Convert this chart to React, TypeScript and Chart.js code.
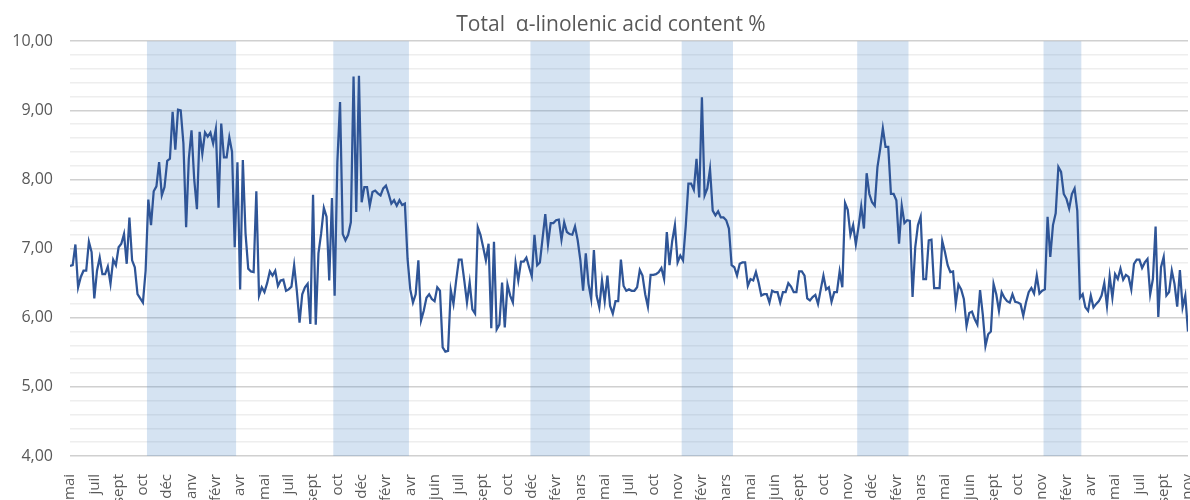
import React, { useEffect, useRef } from "react";
import { Chart, registerables } from "chart.js";

Chart.register(...registerables);

const chartTitle = "Total  α-linolenic acid content %";

// x-axis tick labels, one every 9 points
const tickLabels = [
  "mai", "juil", "sept", "oct", "déc", "janv", "févr", "avr", "mai", "juil",
  "sept", "oct", "déc", "févr", "avr", "juin", "juil", "sept", "oct", "déc",
  "févr", "mars", "mai", "juil", "oct", "nov", "févr", "mars", "mai", "juin",
  "sept", "oct", "nov", "déc", "févr", "mars", "mai", "juin", "sept", "oct",
  "nov", "févr", "avr", "mai", "juil", "sept", "nov",
];
const pointsPerTick = 9;

// Total α-linolenic acid content %, one value per sample
const alaValues = [
  6.75, 6.76, 7.06, 6.44, 6.59, 6.68, 6.68, 7.10, 6.95, 6.28,
  6.68, 6.87, 6.63, 6.63, 6.74, 6.49, 6.84, 6.76, 7.02, 7.07,
  7.21, 6.78, 7.45, 6.83, 6.73, 6.34, 6.28, 6.22, 6.68, 7.71,
  7.34, 7.83, 7.90, 8.25, 7.77, 7.89, 8.27, 8.30, 8.98, 8.43,
  9.01, 9.00, 8.52, 7.31, 8.30, 8.71, 8.00, 7.57, 8.69, 8.37,
  8.68, 8.62, 8.68, 8.52, 8.73, 7.59, 8.81, 8.32, 8.32, 8.61,
  8.40, 7.02, 8.25, 6.41, 8.28, 7.22, 6.71, 6.67, 6.66, 7.83,
  6.32, 6.44, 6.37, 6.50, 6.67, 6.61, 6.68, 6.46, 6.54, 6.55,
  6.39, 6.41, 6.45, 6.76, 6.39, 5.93, 6.34, 6.44, 6.49, 5.91,
  7.78, 5.90, 6.93, 7.22, 7.59, 7.46, 6.54, 7.73, 6.32, 8.25,
  9.12, 7.21, 7.12, 7.20, 7.38, 9.49, 7.53, 9.50, 7.67, 7.89,
  7.89, 7.62, 7.82, 7.84, 7.80, 7.77, 7.87, 7.91, 7.79, 7.65,
  7.70, 7.62, 7.70, 7.63, 7.65, 6.85, 6.41, 6.22, 6.34, 6.83,
  5.96, 6.10, 6.29, 6.34, 6.27, 6.24, 6.44, 6.39, 5.57, 5.51,
  5.52, 6.40, 6.20, 6.54, 6.84, 6.84, 6.54, 6.22, 6.51, 6.12,
  6.06, 7.31, 7.20, 7.02, 6.83, 7.07, 5.85, 7.10, 5.83, 5.90,
  6.51, 5.86, 6.48, 6.32, 6.22, 6.79, 6.54, 6.81, 6.81, 6.87,
  6.73, 6.60, 7.20, 6.76, 6.80, 7.15, 7.50, 7.06, 7.37, 7.37,
  7.41, 7.42, 7.13, 7.38, 7.24, 7.21, 7.20, 7.32, 7.12, 6.83,
  6.39, 6.93, 6.49, 6.27, 6.98, 6.32, 6.15, 6.54, 6.24, 6.61,
  6.17, 6.06, 6.24, 6.24, 6.84, 6.46, 6.39, 6.41, 6.39, 6.39,
  6.44, 6.69, 6.61, 6.34, 6.16, 6.62, 6.62, 6.63, 6.66, 6.72,
  6.56, 7.24, 6.76, 7.11, 7.34, 6.80, 6.90, 6.83, 7.32, 7.94,
  7.94, 7.85, 8.30, 7.74, 9.19, 7.77, 7.87, 8.15, 7.55, 7.48,
  7.54, 7.45, 7.45, 7.41, 7.29, 6.76, 6.73, 6.61, 6.78, 6.80,
  6.80, 6.46, 6.56, 6.54, 6.66, 6.51, 6.32, 6.34, 6.34, 6.22,
  6.39, 6.37, 6.37, 6.22, 6.37, 6.37, 6.50, 6.45, 6.37, 6.37,
  6.67, 6.67, 6.61, 6.28, 6.25, 6.30, 6.33, 6.20, 6.41, 6.61,
  6.41, 6.44, 6.23, 6.37, 6.37, 6.67, 6.44, 7.66, 7.56, 7.20,
  7.34, 7.06, 7.32, 7.61, 7.29, 8.09, 7.79, 7.67, 7.62, 8.18,
  8.44, 8.74, 8.47, 8.47, 7.79, 7.79, 7.70, 7.07, 7.62, 7.37,
  7.41, 7.40, 6.30, 7.02, 7.34, 7.46, 6.56, 6.56, 7.12, 7.13,
  6.43, 6.43, 6.43, 7.11, 6.95, 6.76, 6.66, 6.67, 6.20, 6.48,
  6.41, 6.27, 5.88, 6.07, 6.09, 5.98, 5.90, 6.40, 6.05, 5.59,
  5.76, 5.80, 6.49, 6.34, 6.10, 6.37, 6.29, 6.24, 6.22, 6.34,
  6.23, 6.22, 6.20, 6.03, 6.22, 6.37, 6.43, 6.35, 6.61, 6.35,
  6.39, 6.41, 7.46, 6.88, 7.34, 7.51, 8.18, 8.11, 7.79, 7.72,
  7.58, 7.79, 7.87, 7.55, 6.29, 6.34, 6.15, 6.10, 6.32, 6.15,
  6.20, 6.24, 6.32, 6.50, 6.17, 6.60, 6.29, 6.63, 6.56, 6.71,
  6.55, 6.62, 6.59, 6.41, 6.78, 6.84, 6.84, 6.72, 6.80, 6.85,
  6.34, 6.56, 7.32, 6.01, 6.73, 6.88, 6.32, 6.37, 6.68, 6.49,
  6.16, 6.69, 6.15, 6.32, 5.80,
];

// shaded periods: first and last sample index of each band
const bandStart = [29, 98, 171, 227, 292, 361];
const bandEnd = [61, 125, 192, 245, 310, 374];

const yMin = 4;
const yMax = 10;

const isInt = (v: number) => Math.abs(v - Math.round(v)) < 1e-6;

const bandPlugin = {
  id: "bands",
  beforeDatasetsDraw(chart: any) {
    const { ctx, chartArea, scales } = chart;
    const x = scales.x;
    ctx.save();
    ctx.fillStyle = "rgba(91,146,206,0.26)";
    for (let k = 0; k < bandStart.length; k++) {
      const x1 = x.getPixelForValue(bandStart[k] - 0.5);
      const x2 = x.getPixelForValue(bandEnd[k] + 0.5);
      ctx.fillRect(x1, chartArea.top, x2 - x1, chartArea.bottom - chartArea.top);
    }
    ctx.restore();
  },
};

export default function App() {
  const canvasRef = useRef<HTMLCanvasElement | null>(null);

  useEffect(() => {
    document.body.style.margin = "0";
    const canvas = canvasRef.current;
    if (!canvas) return;
    Chart.defaults.font.family = "'Open Sans', sans-serif";
    const chart = new Chart(canvas, {
      type: "line",
      data: {
        datasets: [
          {
            label: chartTitle,
            data: alaValues.map((v, i) => ({ x: i, y: v })),
            borderColor: "#2f5597",
            borderWidth: 2.25,
            pointRadius: 0,
            tension: 0,
            fill: false,
            yAxisID: "y",
          },
        ],
      },
      options: {
        animation: false,
        responsive: false,
        maintainAspectRatio: false,
        layout: { padding: { left: 0, right: -32, top: 0, bottom: 0 } },
        plugins: {
          legend: { display: false },
          tooltip: { enabled: false },
          title: {
            display: true,
            text: chartTitle,
            color: "#595959",
            font: { size: 21, weight: "normal" },
            padding: { top: 12, bottom: 4 },
          },
        },
        scales: {
          x: {
            type: "linear",
            min: 0,
            max: alaValues.length - 1,
            grid: { display: false },
            border: { display: false },
            ticks: {
              stepSize: pointsPerTick,
              autoSkip: false,
              minRotation: 90,
              maxRotation: 90,
              padding: 10,
              color: "#595959",
              font: { size: 15 },
              callback: (v: any) => tickLabels[Math.round(Number(v) / pointsPerTick)] ?? "",
            },
            afterFit: (s: any) => {
              s.height = 44;
              s.paddingLeft = 0;
              s.paddingRight = 0;
            },
          },
          y: {
            min: yMin,
            max: yMax,
            border: { display: false },
            grid: {
              drawTicks: false,
              lineWidth: 1.5,
              color: (ctx: any) => (isInt(ctx.tick.value) ? "#d0d0d0" : "#eeeeee"),
            },
            ticks: {
              stepSize: 0.2,
              autoSkip: false,
              padding: 17,
              color: "#595959",
              font: { size: 16 },
              callback: (v: any) => (isInt(Number(v)) ? Number(v).toFixed(2).replace(".", ",") : ""),
            },
            afterFit: (s: any) => {
              s.width = 70;
            },
          },
          yRight: {
            position: "right",
            display: true,
            grid: { display: false },
            border: { display: false },
            ticks: { display: false },
            afterFit: (s: any) => {
              s.width = 34;
            },
          },
        },
      },
      plugins: [bandPlugin],
    });
    return () => chart.destroy();
  }, []);

  return (
    <div style={{ width: 1190, height: 500 }}>
      <canvas ref={canvasRef} width={1190} height={500} />
    </div>
  );
}
